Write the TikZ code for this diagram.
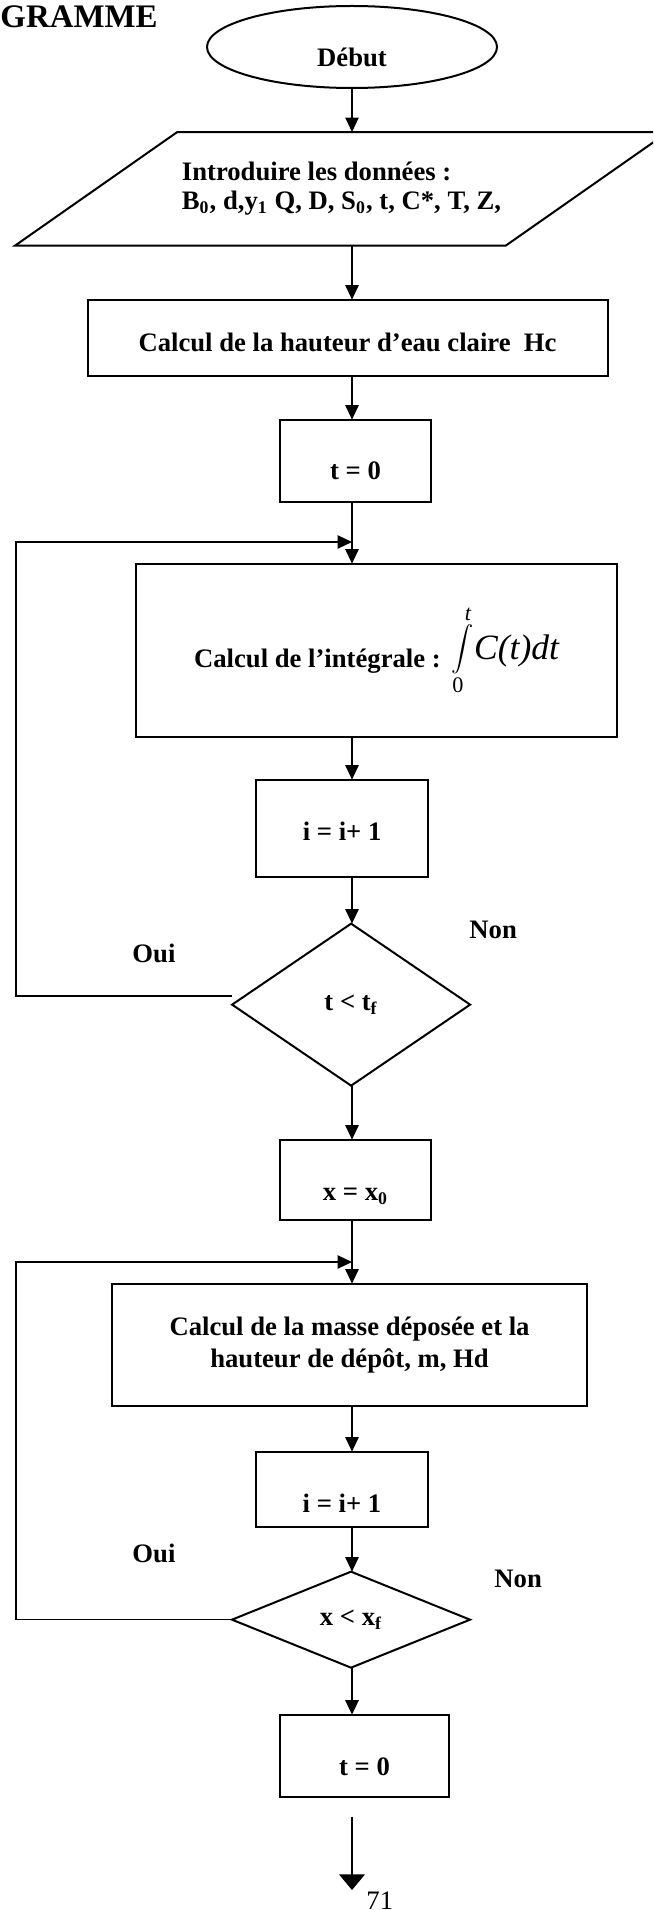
\documentclass[tikz,border=0pt,12pt]{standalone}
\usepackage{fontspec}
\setmainfont{Liberation Serif}
\usetikzlibrary{arrows.meta, positioning, shapes.geometric, calc}
\tikzset{
  box/.style={rectangle, draw=black, line width=0.9pt, fill=white, outer sep=0pt,
    minimum width=68pt, minimum height=37pt, align=center, font=\bfseries, inner sep=2pt},
  terminal/.style={ellipse, draw=black, line width=0.9pt, outer sep=0pt, minimum width=130.5pt,
    minimum height=36.9pt, font=\bfseries, inner sep=1pt},
  io/.style={trapezium, trapezium left angle=35, trapezium right angle=145,
    trapezium stretches body, draw=black, line width=0.9pt, outer sep=0pt, align=left,
    inner xsep=2pt, inner ysep=13.6pt, font={\fontsize{12}{13}\selectfont\bfseries}},
  decision/.style={diamond, draw=black, line width=0.9pt, outer sep=0pt, minimum width=107.1pt,
    font=\bfseries, inner sep=1pt},
  arrow/.style={-{Triangle[length=6.5pt, width=6pt]}, line width=0.7pt},
  bigarrow/.style={-{Triangle[length=7pt, width=11.5pt]}, line width=0.7pt},
  answer/.style={font=\bfseries, inner sep=0pt, anchor=base west},
}
\begin{document}
\begin{tikzpicture}[x=0.45pt, y=0.45pt, node distance=0pt]
\useasboundingbox (0,0) rectangle (653,-1910);
\clip (0,0) rectangle (653,-1910);

\node[font=\fontsize{14.8}{16}\selectfont\bfseries, anchor=base west, inner sep=0pt] (titre) at (0,-28) {GRAMME};
\node[terminal, text height=18pt, text depth=0pt] (debut) at (352,-47) {Début};
\node[io, below=19.8pt of debut, xshift=-4.7pt, minimum width=293.85pt] (donnees)
  {Introduire les données :\\ B\textsubscript{0}, d,y\textsubscript{1} Q, D, S\textsubscript{0}, t, C*, T, Z,};
\node[box, below=24.3pt of donnees, xshift=2.7pt, minimum width=234pt, minimum height=34.2pt,
  text height=12.6pt, text depth=0pt] (hc) {Calcul de la hauteur d'eau claire\ \ Hc};
\node[box, below=19.8pt of hc, xshift=3.6pt, minimum width=67.95pt, minimum height=36.9pt,
  text height=17pt, text depth=0pt] (t0) {t = 0};
\node[box, below=27.9pt of t0, xshift=9.45pt, minimum width=216.45pt, minimum height=77.85pt] (integ)
  {\raisebox{-5pt}{Calcul de l'intégrale :}\,
   $\displaystyle\int\limits_{\mbox{\normalfont\footnotesize 0}}^{\mbox{\normalfont\footnotesize\itshape t}}$%
   \raisebox{-1.5pt}{\normalfont\fontsize{16}{18}\selectfont\itshape C(t)dt}};
\node[box, below=19.35pt of integ, xshift=-15.5pt, minimum width=77.4pt, minimum height=43.65pt,
  text height=11.2pt, text depth=0pt] (inc1) {i = i+ 1};
\node[decision, below=21.15pt of inc1, xshift=4.05pt, minimum height=72.9pt, aspect=1.47] (test1)
  {t < t\textsubscript{f}};
\node[box, below=24.3pt of test1, xshift=2pt, minimum width=67.95pt, minimum height=36pt,
  text height=18.9pt, text depth=0pt] (x0) {x = x\textsubscript{0}};
\node[box, below=28.8pt of x0, xshift=-2.7pt, minimum width=213.75pt, minimum height=54.9pt,
  font={\fontsize{12}{14.4}\selectfont\bfseries}] (masse)
  {Calcul de la masse déposée et la\\ hauteur de dépôt, m, Hd};
\node[box, below=20.7pt of masse, xshift=-3.4pt, minimum width=77.4pt, minimum height=33.75pt,
  text height=21.2pt, text depth=0pt] (inc2) {i = i+ 1};
\node[decision, below=20.25pt of inc2, xshift=4.05pt, minimum height=43.2pt, aspect=2.48] (test2)
  {x < x\textsubscript{f}};
\node[box, below=21.15pt of test2, xshift=6.1pt, minimum width=76.05pt, minimum height=36.9pt,
  text height=18pt, text depth=0pt] (t0b) {t = 0};

\node[answer] (oui1) at (132,-962) {Oui};
\node[answer] (non1) at (469,-938) {Non};
\node[answer] (oui2) at (132,-1562) {Oui};
\node[answer] (non2) at (494,-1587) {Non};
\node[anchor=base west, inner sep=0pt] (page) at (366,-1909) {71};

\coordinate (lft) at (16,0);
\coordinate (join1) at (352,-542);
\coordinate (join2) at (352,-1262);
\coordinate (fin) at (352,-1890);

% main line
\draw[arrow] (debut.south) -- (donnees.north -| debut);
\draw[arrow] (donnees.south -| debut) -- (hc.north -| debut);
\draw[arrow] (hc.south -| debut) -- (t0.north -| debut);
\draw[arrow] (t0.south -| debut) -- (integ.north -| debut);
\draw[arrow] (integ.south -| debut) -- (inc1.north -| debut);
\draw[arrow] (inc1.south -| debut) -- (test1.north -| debut);
\draw[arrow] (test1.south -| debut) -- (x0.north -| debut);
\draw[arrow] (x0.south -| debut) -- (masse.north -| debut);
\draw[arrow] (masse.south -| debut) -- (inc2.north -| debut);
\draw[arrow] (inc2.south -| debut) -- (test2.north -| debut);
\draw[arrow] (test2.south -| debut) -- (t0b.north -| debut);
\draw[bigarrow] ($(t0b.south -| debut)+(0,-20)$) -- (fin);

% loops back
\draw[arrow] ([yshift=4pt]test1.west) -- ([yshift=4pt]test1.west -| lft) |- (join1);
\draw[arrow] (test2.west) -- (test2.west -| lft) |- (join2);
\end{tikzpicture}
\end{document}
